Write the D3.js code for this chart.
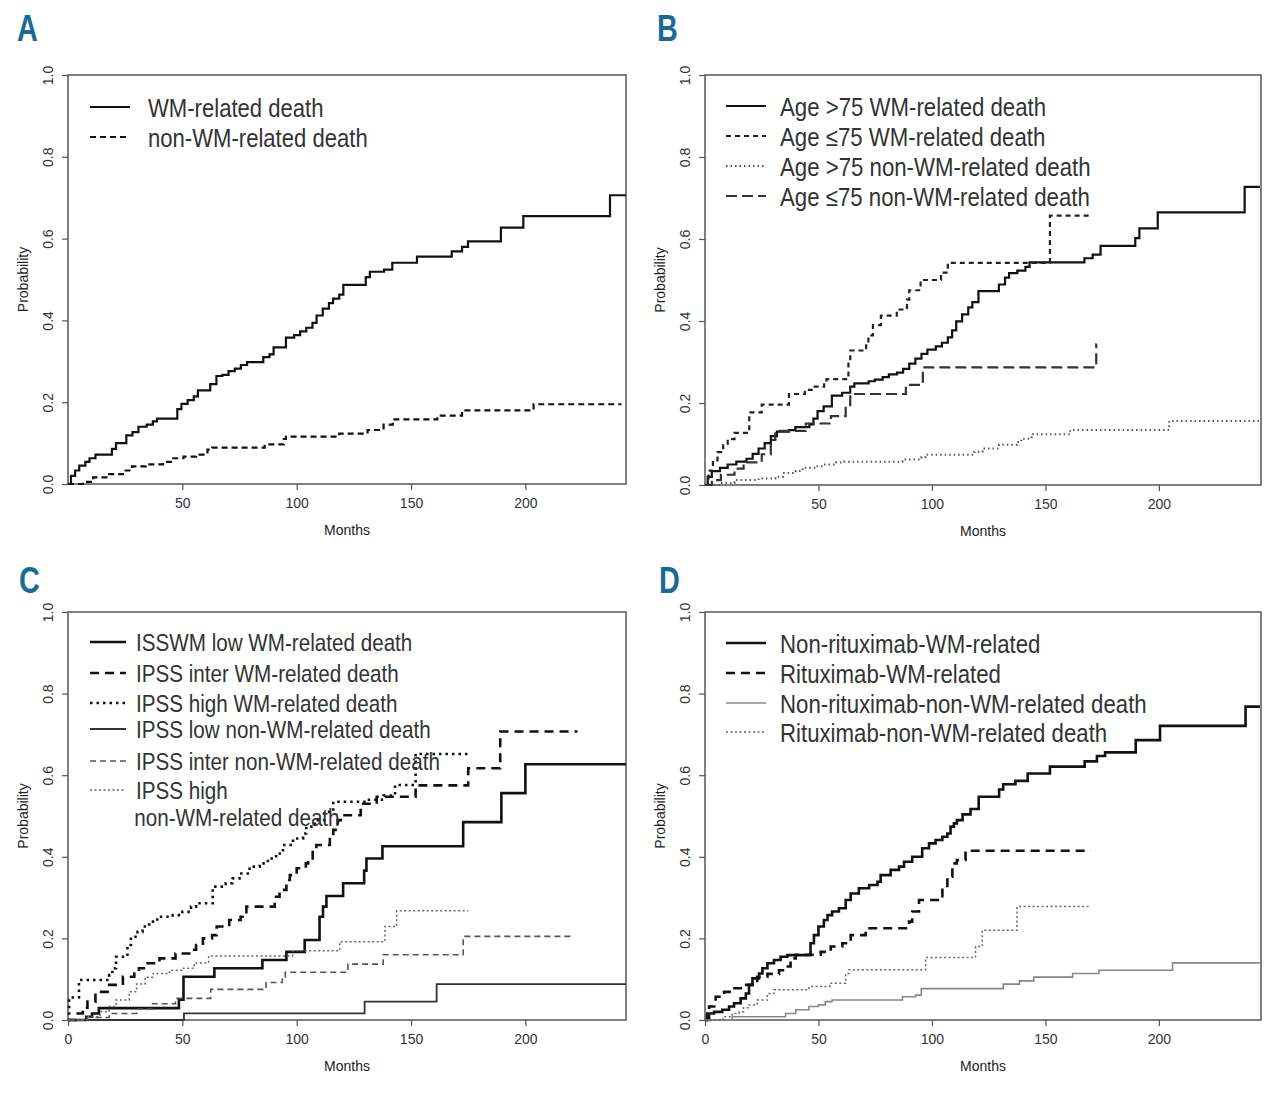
<!DOCTYPE html>
<html>
<head>
<meta charset="utf-8">
<script src="https://cdn.jsdelivr.net/npm/d3@7"></script>
<style>
  body { margin: 0; background: #fff; }
  text { font-family: "Liberation Sans", Arial, sans-serif; }
</style>
</head>
<body>
<svg id="chart" width="1280" height="1104"></svg>
<script>
// ---- data (months, cumulative probability; last point = end of follow-up) ----
var yTicks = [0, 0.2, 0.4, 0.6, 0.8, 1.0];
var xTicksTop = [50, 100, 150, 200];
var xTicksBottom = [0, 50, 100, 150, 200];

// A
var aWmT = [0, 1.3, 3.1, 4.9, 7.6, 9.4, 12, 19.2, 21, 25.5, 28.2, 30.8, 34.4, 37.1, 38.9, 47.8, 49.6, 52.3, 55, 56.8, 62.2, 64.9, 67.5, 70.2, 72.9, 75.6, 78.3, 85.4, 88.1, 89.9, 95.3, 98.9, 101.5, 104.2, 106.9, 108.7, 111.4, 114.1, 115.9, 118.6, 120.4, 130.2, 132, 138.2, 141.8, 152.6, 167.8, 172.3, 174.9, 189.3, 199.1, 237, 244];
var aWmP = [0, 0.02, 0.033, 0.045, 0.054, 0.063, 0.072, 0.086, 0.1, 0.119, 0.127, 0.14, 0.145, 0.153, 0.16, 0.183, 0.196, 0.205, 0.214, 0.229, 0.244, 0.264, 0.267, 0.276, 0.282, 0.291, 0.298, 0.31, 0.317, 0.334, 0.358, 0.364, 0.373, 0.382, 0.394, 0.412, 0.429, 0.442, 0.453, 0.463, 0.487, 0.506, 0.519, 0.524, 0.541, 0.556, 0.569, 0.58, 0.593, 0.627, 0.655, 0.706, 0.706];
var aNonT = [0, 6.5, 11, 18, 24, 28, 34, 41.5, 45, 50.5, 56, 61, 63, 86, 94.4, 95.3, 118.6, 131, 138, 142, 161.5, 172.3, 203.6, 242];
var aNonP = [0, 0.005, 0.016, 0.024, 0.033, 0.043, 0.048, 0.054, 0.063, 0.067, 0.072, 0.084, 0.089, 0.097, 0.11, 0.116, 0.123, 0.132, 0.145, 0.158, 0.167, 0.18, 0.195, 0.195];
var aLabels = ["WM-related death", "non-WM-related death"];

// B
var bOldWmT = [0, 1.2, 3, 6.6, 10, 13.8, 18.3, 21, 23.6, 26.3, 29, 31.7, 37, 39.8, 46, 47.8, 49.6, 52.3, 55.9, 60.4, 64, 65.8, 72.1, 74.8, 78.3, 81, 84.6, 87.3, 90, 92.7, 95.4, 98, 101.7, 104.4, 107, 108.9, 110.7, 113.3, 116, 117.8, 120.5, 129.5, 132.2, 134, 137.6, 141.2, 143, 167.2, 170.8, 174.3, 189.6, 191.4, 199.5, 237.8, 244.5];
var bOldWmP = [0, 0.02, 0.034, 0.042, 0.05, 0.057, 0.064, 0.076, 0.089, 0.102, 0.119, 0.13, 0.134, 0.141, 0.148, 0.162, 0.18, 0.192, 0.218, 0.225, 0.24, 0.248, 0.253, 0.257, 0.263, 0.27, 0.274, 0.283, 0.296, 0.308, 0.32, 0.33, 0.338, 0.347, 0.36, 0.377, 0.399, 0.416, 0.433, 0.446, 0.473, 0.489, 0.506, 0.517, 0.523, 0.532, 0.543, 0.553, 0.562, 0.583, 0.602, 0.626, 0.665, 0.727, 0.727];
var bYoungWmT = [0, 1.5, 3.5, 5.5, 8, 10, 13, 19.5, 25, 37, 44, 47, 52.5, 53.5, 63.2, 64, 71, 72, 74, 77.5, 84.5, 89, 90, 95, 104, 107, 152, 170];
var bYoungWmP = [0, 0.035, 0.06, 0.08, 0.1, 0.112, 0.127, 0.177, 0.196, 0.222, 0.232, 0.24, 0.252, 0.258, 0.3, 0.328, 0.345, 0.365, 0.39, 0.413, 0.428, 0.452, 0.475, 0.5, 0.518, 0.542, 0.657, 0.657];
var bOldNonT = [0, 7, 13, 23.6, 31, 34.4, 40, 43, 49, 52, 57.7, 61.3, 87, 95.4, 97.2, 118.7, 122.3, 129.5, 137.6, 139.4, 143.9, 160.9, 204.5, 244.5];
var bOldNonP = [0, 0.005, 0.012, 0.016, 0.02, 0.029, 0.034, 0.042, 0.046, 0.05, 0.055, 0.057, 0.062, 0.068, 0.074, 0.081, 0.089, 0.098, 0.105, 0.113, 0.124, 0.134, 0.156, 0.156];
var bYoungNonT = [0, 3, 7, 13, 17, 25, 29, 31, 44.4, 55.5, 62, 64, 88.5, 96, 172.4, 172.6];
var bYoungNonP = [0, 0.012, 0.025, 0.04, 0.055, 0.075, 0.11, 0.132, 0.15, 0.168, 0.195, 0.222, 0.244, 0.287, 0.343, 0.343];
var bLabels = ["Age >75 WM-related death", "Age \u226475 WM-related death", "Age >75 non-WM-related death", "Age \u226475 non-WM-related death"];

// C
var cLowWmT = [0, 8, 10.5, 13.5, 48.5, 50.5, 64, 85, 95.5, 103.5, 110, 111.5, 113, 120.3, 129.5, 130.5, 137.5, 172.8, 189.5, 200, 244];
var cLowWmP = [0, 0.008, 0.016, 0.029, 0.05, 0.106, 0.127, 0.147, 0.167, 0.196, 0.253, 0.278, 0.304, 0.335, 0.366, 0.396, 0.426, 0.485, 0.556, 0.627, 0.627];
var cInterWmT = [0, 3.5, 6.5, 8.5, 12, 18, 24, 29, 31, 34, 40, 47, 53, 56, 59, 63, 65, 70.5, 75.5, 78, 90.4, 92.5, 95.5, 97, 100, 104, 105, 107, 108.6, 114.5, 116, 118, 120, 128, 135, 152, 175, 189, 222.8];
var cInterWmP = [0, 0.016, 0.03, 0.045, 0.069, 0.086, 0.106, 0.114, 0.127, 0.139, 0.151, 0.163, 0.172, 0.184, 0.2, 0.208, 0.229, 0.245, 0.253, 0.278, 0.302, 0.319, 0.343, 0.355, 0.372, 0.384, 0.396, 0.417, 0.429, 0.449, 0.466, 0.49, 0.502, 0.53, 0.547, 0.575, 0.617, 0.707, 0.707];
var cHighWmT = [0, 0.5, 4.8, 18, 19.4, 21, 26, 27.5, 30.4, 32.6, 35.5, 39, 45.8, 50, 53.8, 56, 63.3, 69, 72, 75, 79.4, 83.8, 87.4, 91, 94, 98.4, 102.8, 104.2, 108, 112, 116, 131, 138, 143, 152, 175.5];
var cHighWmP = [0, 0.055, 0.098, 0.11, 0.127, 0.155, 0.184, 0.204, 0.216, 0.229, 0.241, 0.253, 0.257, 0.265, 0.278, 0.286, 0.327, 0.335, 0.347, 0.359, 0.376, 0.384, 0.396, 0.408, 0.429, 0.445, 0.457, 0.474, 0.49, 0.51, 0.535, 0.54, 0.55, 0.576, 0.652, 0.652];
var cLowNonT = [0, 50.7, 129.7, 161.2, 244];
var cLowNonP = [0, 0.016, 0.045, 0.088, 0.088];
var cInterNonT = [0, 8, 18, 30, 37, 47, 62.4, 86.6, 93.7, 95, 122.4, 137.8, 172.8, 221];
var cInterNonP = [0, 0.006, 0.016, 0.027, 0.04, 0.053, 0.075, 0.092, 0.105, 0.117, 0.137, 0.16, 0.205, 0.205];
var cHighNonT = [0, 9, 14, 18, 21, 26.8, 30, 33.7, 37.3, 44.4, 49.8, 55.2, 61.5, 98.2, 118.8, 138.6, 143.7, 175];
var cHighNonP = [0, 0.008, 0.02, 0.033, 0.049, 0.069, 0.088, 0.105, 0.114, 0.122, 0.127, 0.14, 0.157, 0.17, 0.192, 0.229, 0.268, 0.268];
var cLabels = ["ISSWM low WM-related death", "IPSS inter WM-related death", "IPSS high WM-related death", "IPSS low non-WM-related death", "IPSS inter non-WM-related death", "IPSS high\nnon-WM-related death"];

// D
var dNonRitWmT = [0, 1, 4, 7.6, 10.6, 12.8, 15.7, 18, 19.4, 20.9, 23.8, 25.3, 27.5, 30.4, 33.3, 36.3, 46.5, 48, 50, 52.4, 54, 56, 59, 62, 64.2, 67.8, 72.3, 76, 77.4, 81.8, 85.5, 87.7, 91.3, 95.7, 98.7, 101.6, 104.6, 106.8, 108.2, 109.7, 111, 113.5, 117, 120.6, 129.6, 131.4, 136.8, 142.2, 152, 167.3, 172.7, 176.3, 189.8, 200.5, 238.2, 244.5];
var dNonRitWmP = [0, 0.016, 0.02, 0.025, 0.033, 0.041, 0.053, 0.065, 0.086, 0.102, 0.114, 0.127, 0.139, 0.147, 0.155, 0.159, 0.188, 0.208, 0.229, 0.245, 0.257, 0.266, 0.274, 0.294, 0.31, 0.323, 0.331, 0.339, 0.355, 0.368, 0.376, 0.388, 0.4, 0.421, 0.433, 0.441, 0.449, 0.457, 0.474, 0.482, 0.49, 0.504, 0.517, 0.547, 0.565, 0.578, 0.586, 0.604, 0.621, 0.634, 0.647, 0.656, 0.686, 0.721, 0.768, 0.768];
var dRitWmT = [0, 1.8, 4.7, 8.4, 12, 16.4, 23, 27.5, 32.6, 35.5, 37.7, 40, 51, 55.4, 60.5, 64.2, 70.8, 89.9, 91.3, 94.3, 104.6, 106.8, 109, 111, 114.8, 170];
var dRitWmP = [0, 0.033, 0.057, 0.069, 0.078, 0.086, 0.106, 0.113, 0.122, 0.131, 0.151, 0.16, 0.167, 0.18, 0.188, 0.208, 0.225, 0.241, 0.266, 0.294, 0.323, 0.351, 0.384, 0.392, 0.415, 0.415];
var dNonRitNonT = [0, 12, 35.5, 40, 45.8, 50, 53, 56, 87, 92.8, 95.3, 131.4, 138.6, 144.9, 162, 173.6, 206, 244.5];
var dNonRitNonP = [0, 0.008, 0.016, 0.025, 0.033, 0.037, 0.045, 0.049, 0.057, 0.061, 0.077, 0.088, 0.096, 0.105, 0.114, 0.122, 0.14, 0.14];
var dRitNonT = [0, 8, 12, 15, 17, 19.4, 23, 27.5, 30.4, 45.8, 55, 62, 63.5, 97.2, 119.2, 122.2, 137.5, 170];
var dRitNonP = [0, 0.008, 0.016, 0.02, 0.03, 0.037, 0.049, 0.065, 0.074, 0.082, 0.09, 0.114, 0.123, 0.153, 0.18, 0.22, 0.278, 0.278];
var dLabels = ["Non-rituximab-WM-related", "Rituximab-WM-related", "Non-rituximab-non-WM-related death", "Rituximab-non-WM-related death"];

// ---- styles ----
var solidBlack = {stroke: "#111", width: 2.2, dash: null};
var dashBlack = {stroke: "#111", width: 2.2, dash: "6,4"};
var thickDash = {stroke: "#111", width: 2.6, dash: "9,6"};
var thickDot = {stroke: "#111", width: 2.6, dash: "2.5,4"};
var greySolid = {stroke: "#333", width: 1.8, dash: null};
var greyDash = {stroke: "#555", width: 1.6, dash: "6,4"};
var greyDot = {stroke: "#666", width: 1.5, dash: "2,2.5"};
var longDash = {stroke: "#333", width: 2.2, dash: "11,5"};
var dotB = {stroke: "#555", width: 2, dash: "1.5,3"};
var lightSolid = {stroke: "#888", width: 1.6, dash: null};

var narrow = "'Liberation Sans Narrow', 'Liberation Sans', Arial, sans-serif";
var svg = d3.select("#chart");

function zip(t, p) {
  return t.map(function(d, i) { return [d, p[i]]; });
}

function panel(o) {
  var x = d3.scaleLinear().domain([0, o.xMax]).range([o.left, o.right]);
  var y = d3.scaleLinear().domain([0, 1]).range([o.bottom, o.top]);
  var g = svg.append("g");

  // x axis
  var xa = g.append("g")
    .attr("transform", "translate(0," + o.bottom + ")")
    .call(d3.axisBottom(x).tickValues(o.xTicks).tickSize(6).tickPadding(8).tickFormat(d3.format("d")));
  // y axis
  var ya = g.append("g")
    .attr("transform", "translate(" + o.left + ",0)")
    .call(d3.axisLeft(y).tickValues(yTicks).tickSize(6).tickFormat(d3.format(".1f")));
  ya.selectAll("text")
    .attr("x", null).attr("dy", null)
    .attr("text-anchor", "middle")
    .attr("transform", "translate(-15,0) rotate(-90)");
  [xa, ya].forEach(function(a) {
    a.select(".domain").remove();
    a.selectAll("line").attr("stroke", "#555").attr("stroke-width", 1.2);
    a.selectAll("text").attr("font-size", 14).attr("fill", "#333")
      .attr("font-family", "'Liberation Sans', Arial, sans-serif");
  });

  // box
  g.append("rect")
    .attr("x", o.left).attr("y", o.top)
    .attr("width", o.right - o.left).attr("height", o.bottom - o.top)
    .attr("fill", "none").attr("stroke", "#555").attr("stroke-width", 1.5);

  g.append("text")
    .attr("x", (o.left + o.right) / 2).attr("y", o.bottom + 51)
    .attr("text-anchor", "middle").attr("font-size", 14).attr("fill", "#222")
    .text("Months");
  g.append("text")
    .attr("transform", "translate(" + (o.left - 40) + "," + ((o.top + o.bottom) / 2) + ") rotate(-90)")
    .attr("text-anchor", "middle").attr("font-size", 14).attr("fill", "#222")
    .text("Probability");

  g.append("text")
    .attr("transform", "translate(" + o.letterX + "," + o.letterY + ") scale(0.8,1.05)")
    .attr("font-family", narrow)
    .attr("font-weight", "bold").attr("font-size", 36).attr("fill", "#1a6b93")
    .text(o.letter);

  // curves
  var line = d3.line()
    .x(function(d) { return x(d[0]); })
    .y(function(d) { return y(d[1]); })
    .curve(d3.curveStepAfter);

  o.series.forEach(function(s) {
    g.append("path")
      .datum(zip(s.t, s.p))
      .attr("d", line)
      .attr("fill", "none")
      .attr("stroke", s.style.stroke)
      .attr("stroke-width", s.style.width)
      .attr("stroke-dasharray", s.style.dash);
  });

  // legend
  o.series.forEach(function(s, i) {
    var ly = o.legRows[i];
    g.append("line")
      .attr("x1", o.legX).attr("x2", o.legX + o.legLen)
      .attr("y1", ly).attr("y2", ly)
      .attr("stroke", s.style.stroke)
      .attr("stroke-width", s.style.width)
      .attr("stroke-dasharray", s.style.dash);
    var parts = o.labels[i].split("\n");
    var t = g.append("text")
      .attr("transform", "translate(" + o.legTextX + "," + (ly + o.legDy) + ") scale(" + o.legScale + ",1)")
      .attr("font-family", narrow)
      .attr("font-size", o.legFont).attr("fill", "#333");
    parts.forEach(function(p, k) {
      t.append("tspan")
        .attr("x", k > 0 ? -2 : 0)
        .attr("y", k * 27)
        .text(p);
    });
  });
}

panel({
  letter: "A", letterX: 17, letterY: 41,
  left: 68, right: 626, top: 75, bottom: 484, xMax: 244, xTicks: xTicksTop,
  series: [
    {t: aWmT, p: aWmP, style: solidBlack},
    {t: aNonT, p: aNonP, style: dashBlack}
  ],
  labels: aLabels, legX: 90, legLen: 40, legTextX: 148, legRows: [107, 137],
  legFont: 26, legScale: 0.85, legDy: 10
});

panel({
  letter: "B", letterX: 657, letterY: 41,
  left: 705, right: 1261, top: 75, bottom: 485, xMax: 245, xTicks: xTicksTop,
  series: [
    {t: bOldWmT, p: bOldWmP, style: solidBlack},
    {t: bYoungWmT, p: bYoungWmP, style: {stroke: "#222", width: 2.2, dash: "5,4"}},
    {t: bOldNonT, p: bOldNonP, style: dotB},
    {t: bYoungNonT, p: bYoungNonP, style: longDash}
  ],
  labels: bLabels, legX: 726, legLen: 40, legTextX: 780, legRows: [106, 136, 166, 196],
  legFont: 26, legScale: 0.855, legDy: 10
});

panel({
  letter: "C", letterX: 19, letterY: 593,
  left: 68, right: 626, top: 612, bottom: 1020, xMax: 244, xTicks: xTicksBottom,
  series: [
    {t: cLowWmT, p: cLowWmP, style: {stroke: "#111", width: 2.6, dash: null}},
    {t: cInterWmT, p: cInterWmP, style: thickDash},
    {t: cHighWmT, p: cHighWmP, style: thickDot},
    {t: cLowNonT, p: cLowNonP, style: greySolid},
    {t: cInterNonT, p: cInterNonP, style: greyDash},
    {t: cHighNonT, p: cHighNonP, style: greyDot}
  ],
  labels: cLabels, legX: 90, legLen: 36, legTextX: 136, legRows: [642, 673, 703, 729, 761, 790],
  legFont: 24, legScale: 0.86, legDy: 9
});

panel({
  letter: "D", letterX: 659, letterY: 593,
  left: 705, right: 1261, top: 612, bottom: 1020, xMax: 245, xTicks: xTicksBottom,
  series: [
    {t: dNonRitWmT, p: dNonRitWmP, style: {stroke: "#111", width: 2.6, dash: null}},
    {t: dRitWmT, p: dRitWmP, style: thickDash},
    {t: dNonRitNonT, p: dNonRitNonP, style: lightSolid},
    {t: dRitNonT, p: dRitNonP, style: greyDot}
  ],
  labels: dLabels, legX: 726, legLen: 40, legTextX: 780, legRows: [643, 673, 703, 732],
  legFont: 26, legScale: 0.855, legDy: 10
});
</script>
</body>
</html>
